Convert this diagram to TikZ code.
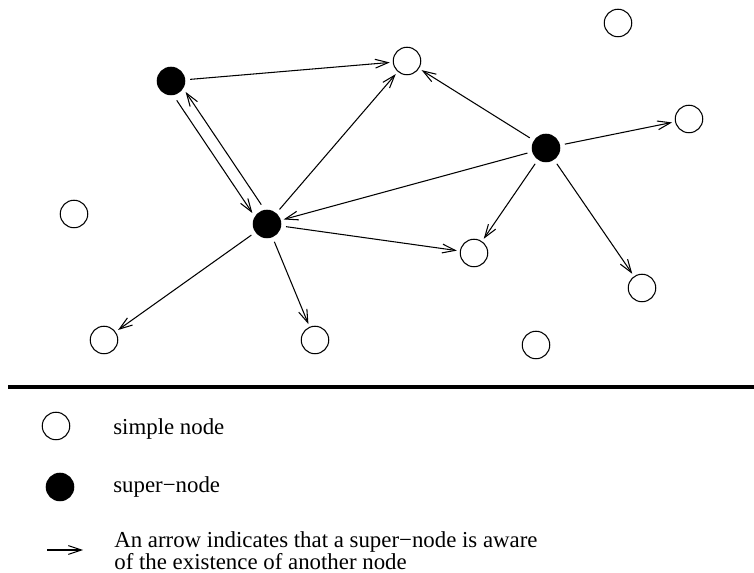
\documentclass[tikz,border=0pt]{standalone}
\usepackage{fontspec}
\setmainfont{Liberation Serif}
\usetikzlibrary{arrows.meta}
\tikzset{
  net/.style={
    simplenode/.style={circle,draw,line width=0.6pt,minimum size=0.55cm,inner sep=0pt},
    supernode/.style={circle,draw,fill=black,line width=0.6pt,minimum size=0.55cm,inner sep=0pt},
    aware/.style={line width=0.6pt,-{Straight Barb[length=7.4pt,width=5pt,line width=0.6pt]},
                  shorten <=2.8pt,shorten >=1.7pt},
    separator/.style={line width=2.3pt},
    legend text/.style={font={\fontsize{13pt}{13pt}\selectfont},anchor=base west,inner sep=0pt,align=left},
  },
}

\begin{document}
\begin{tikzpicture}[net,x=0.02cm,y=-0.02cm]
    \useasboundingbox (0,0) rectangle (754,573);
    % nodes
    \foreach \n/\x/\y in {n1/407/61,n2/618/23,n3/689/119,n4/74/214,n5/474/253,
                          n6/642/288,n7/104/340,n8/315/340,n9/536/345}
        \node[simplenode] (\n) at (\x,\y) {};
    \foreach \n/\x/\y in {sup1/171/81,sup2/267/224,sup3/546/148}
        \node[supernode] (\n) at (\x,\y) {};
    % who knows whom
    \foreach \s/\t in {sup1/n1,sup2/n1,sup2/n5,sup2/n7,sup2/n8,
                       sup3/n1,sup3/n3,sup3/sup2,sup3/n5,sup3/n6}
        \draw[aware] (\s) -- (\t);
    \draw[aware,transform canvas={shift={(-5,3.4)}}] (sup1) -- (sup2);
    \draw[aware,transform canvas={shift={(5,-3.4)}}] (sup2) -- (sup1);
    % legend
    \coordinate (rule west) at (8,387);
    \coordinate (rule east) at (754,387);
    \draw[separator] (rule west) -- (rule east);
    \node[simplenode] (key simple) at (56,426) {};
    \node[legend text] (key simple text) at (113,435) {simple node};
    \node[supernode] (key super) at (60,487) {};
    \node[legend text] (key super text) at (113,493) {super−node};
    \coordinate (key tail) at (47,550);
    \coordinate (key head) at (83,550);
    \draw[aware,shorten <=0pt,shorten >=0pt] (key tail) -- (key head);
    \node[legend text] (key arrow text) at (114,570)
        {An arrow indicates that a super−node is aware\\of the existence of another node};
\end{tikzpicture}
\end{document}
